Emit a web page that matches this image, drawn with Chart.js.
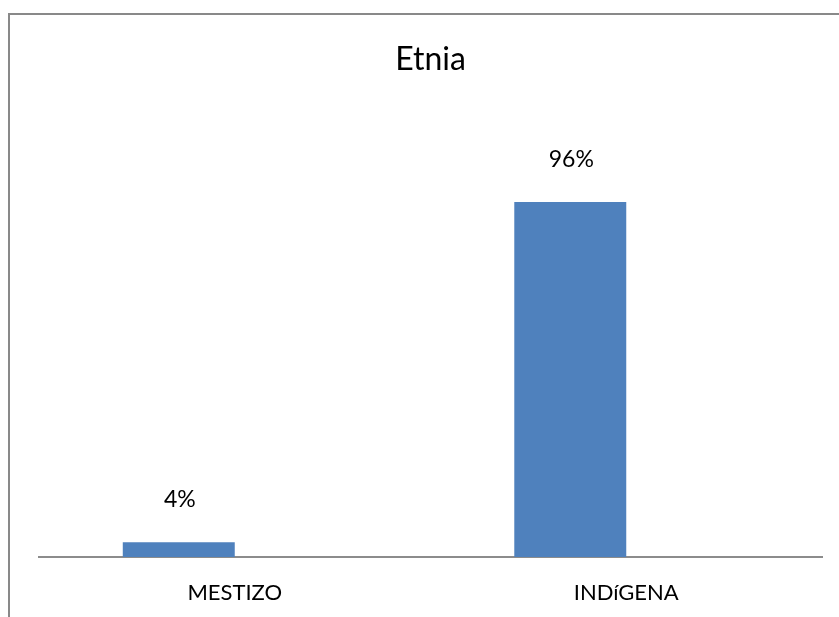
<!DOCTYPE html>
<html>
<head>
<meta charset="utf-8">
<script src="https://cdn.jsdelivr.net/npm/chart.js@4.4.1/dist/chart.umd.min.js"></script>
<style>
  body { margin: 0; background: #fff; }
  #frame {
    position: absolute; left: 8px; top: 13px; width: 900px; height: 700px;
    border-left: 2px solid #898989; border-top: 2px solid #898989;
  }
  #wrap { position: absolute; left: 0; top: 0; width: 839px; height: 617px; }
</style>
</head>
<body>
<div id="frame"></div>
<div id="wrap"><canvas id="etniaChart"></canvas></div>
<script>
const categories = ['MESTIZO', 'INDíGENA'];
const percentValues = [4, 96];
const emptySeries = [null, null];

// etiquetas encima de cada barra
const barLabels = {
  id: 'barLabels',
  afterDatasetsDraw(chart) {
    const ctx = chart.ctx;
    const meta = chart.getDatasetMeta(0);
    ctx.save();
    ctx.font = '23px Lato';
    ctx.fillStyle = '#000';
    ctx.textAlign = 'center';
    ctx.textBaseline = 'middle';
    meta.data.forEach((bar, i) => {
      ctx.fillText(percentValues[i] + '%', bar.x + 1, bar.y - 43);
    });
    ctx.restore();
  }
};

const etniaChart = document.getElementById('etniaChart');
new Chart(etniaChart, {
  type: 'bar',
  data: {
    labels: categories,
    datasets: [
      {
        label: 'Etnia',
        data: percentValues,
        backgroundColor: '#4F81BD',
        borderWidth: 0
      },
      {
        label: '',
        data: emptySeries,
        backgroundColor: '#4F81BD'
      }
    ]
  },
  options: {
    responsive: true,
    maintainAspectRatio: false,
    animation: false,
    datasets: {
      bar: { categoryPercentage: 0.572, barPercentage: 1 }
    },
    layout: { padding: { left: 39, right: 17, top: 0, bottom: 0 } },
    plugins: {
      legend: { display: false },
      tooltip: { enabled: false },
      title: {
        display: true,
        text: 'Etnia',
        color: '#000',
        font: { family: 'Lato', size: 32, weight: 'normal' },
        padding: { top: 40, bottom: 35 }
      }
    },
    scales: {
      x: {
        grid: { display: false },
        border: { display: true, color: '#8c8c8c', width: 2 },
        ticks: { color: '#000', padding: 15, font: { family: 'Lato', size: 22 } },
        afterFit(scale) { scale.height = 60; }
      },
      y: {
        display: false,
        min: 0,
        max: 120
      }
    }
  },
  plugins: [barLabels]
});
</script>
</body>
</html>
